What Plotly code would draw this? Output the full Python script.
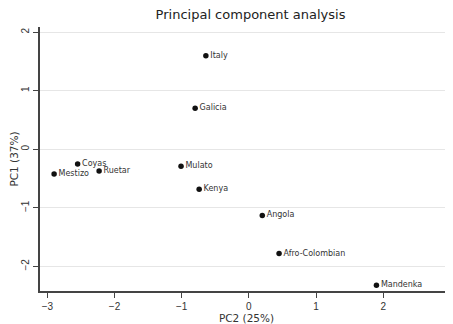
import plotly.graph_objects as go

populations = ["Italy", "Galicia", "Coyas", "Mestizo", "Ruetar", "Mulato", "Kenya",
               "Angola", "Afro-Colombian", "Mandenka"]
pc2 = [-0.64, -0.80, -2.55, -2.90, -2.23, -1.01, -0.74, 0.20, 0.45, 1.90]
pc1 = [1.60, 0.70, -0.25, -0.42, -0.37, -0.29, -0.68, -1.13, -1.78, -2.32]
x_ticks = [-3, -2, -1, 0, 1, 2, 3]
y_ticks = [-2, -1, 0, 1, 2]

fig = go.Figure(go.Scatter(
    x=pc2, y=pc1, mode="markers+text",
    text=populations, textposition="middle right",
    textfont=dict(family="DejaVu Sans", size=8, color="#333333"),
    marker=dict(color="#111111", size=5.5),
    cliponaxis=False,
))

fig.update_layout(
    width=445, height=316,
    margin=dict(l=32, r=0, t=19, b=33),
    paper_bgcolor="white", plot_bgcolor="white",
    showlegend=False,
    font=dict(family="Liberation Sans, Arial", color="#333333"),
    title=dict(text="Principal component analysis", x=0.545, xanchor="center",
               y=0.995, yanchor="top",
               font=dict(family="DejaVu Sans", size=13, color="#222222")),
)
fig.update_xaxes(
    range=[-3.11, 3.04], tickvals=x_ticks, showgrid=False, zeroline=False,
    showline=True, linecolor="#444444", linewidth=1.5,
    ticks="outside", ticklen=5, tickcolor="#444444",
    tickfont=dict(size=10, color="#333333"),
    title=dict(text="PC2 (25%)", font=dict(family="DejaVu Sans", size=10.5, color="#333333"), standoff=0),
    automargin=False,
)
fig.update_yaxes(
    range=[-2.42, 2.09], tickvals=y_ticks, showgrid=True, gridcolor="#e6e6e6",
    gridwidth=1, zeroline=False,
    showline=True, linecolor="#444444", linewidth=1.5,
    ticks="outside", ticklen=5, tickcolor="#444444", tickangle=-90,
    tickfont=dict(size=10, color="#333333"),
    title=dict(text="PC1 (37%)", font=dict(family="DejaVu Sans", size=10.5, color="#333333")),
    automargin=False,
)

fig.write_html("out.html")
